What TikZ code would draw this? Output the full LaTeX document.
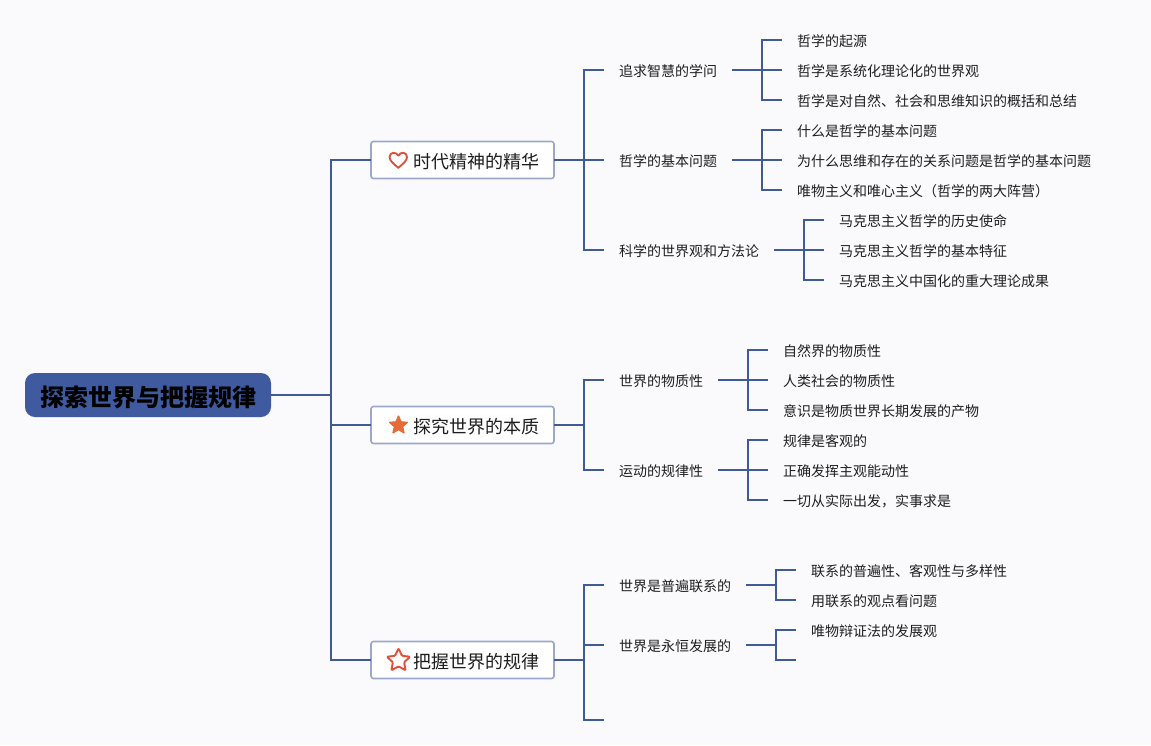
\documentclass[tikz,border=0pt]{standalone}
\usepackage{fontspec}
\setmainfont{Noto Sans CJK SC}
\usetikzlibrary{shapes.geometric}
\definecolor{bgc}{HTML}{FAFAFD}
\definecolor{linec}{HTML}{3F5A94}
\definecolor{rootc}{HTML}{3F5A9E}
\definecolor{boxc}{HTML}{9CA8CA}
\definecolor{heartc}{HTML}{D9533F}
\definecolor{starc}{HTML}{E56C38}
\definecolor{staro}{HTML}{E2503C}
\definecolor{txtc}{HTML}{1E1E1E}
\tikzset{
  conn/.style={draw=linec,line width=2.1pt},
  rootbox/.style={anchor=center,fill=rootc,draw=none,rounded corners=10pt,minimum width=246pt,minimum height=44pt,inner xsep=15pt,inner ysep=0pt,outer sep=0pt,text height=23pt,text depth=0pt,font=\fontsize{24}{28}\selectfont\bfseries,text=black},
  mainbox/.style={anchor=center,fill=white,draw=boxc,line width=1.6pt,rounded corners=2.5pt,minimum width=183pt,minimum height=37pt,inner xsep=15pt,inner ysep=0pt,outer sep=0pt,text height=18pt,text depth=0.3pt,font=\fontsize{18}{22}\selectfont,text=txtc},
  item/.style={anchor=west,inner xsep=15pt,inner ysep=0pt,outer sep=0pt,text height=14pt,text depth=0.4pt,font=\fontsize{14}{16}\selectfont,text=txtc},
}
\begin{document}
\begin{tikzpicture}[x=1pt,y=-1pt]
\useasboundingbox (0,0) rectangle (1151,745);
\fill[bgc] (0,0) rectangle (1151,745);

% connectors' end points
\coordinate (c3) at (604,720);
\coordinate (c22) at (796,660);

% second level
\node[item] (a1) at (604,70) {追求智慧的学问};
\node[item] (a2) at (604,160) {哲学的基本问题};
\node[item] (a3) at (604,250) {科学的世界观和方法论};
\node[item] (b1) at (604,380) {世界的物质性};
\node[item] (b2) at (604,470) {运动的规律性};
\node[item] (c1) at (604,585) {世界是普遍联系的};
\node[item] (c2) at (604,645) {世界是永恒发展的};

% leaves
\node[item] (a11) at (782,40) {哲学的起源};
\node[item] (a12) at (782,70) {哲学是系统化理论化的世界观};
\node[item] (a13) at (782,100) {哲学是对自然、社会和思维知识的概括和总结};
\node[item] (a21) at (782,130) {什么是哲学的基本问题};
\node[item] (a22) at (782,160) {为什么思维和存在的关系问题是哲学的基本问题};
\node[item] (a23) at (782,190) {唯物主义和唯心主义（哲学的两大阵营）};
\node[item] (a31) at (824,220) {马克思主义哲学的历史使命};
\node[item] (a32) at (824,250) {马克思主义哲学的基本特征};
\node[item] (a33) at (824,280) {马克思主义中国化的重大理论成果};
\node[item] (b11) at (768,350) {自然界的物质性};
\node[item] (b12) at (768,380) {人类社会的物质性};
\node[item] (b13) at (768,410) {意识是物质世界长期发展的产物};
\node[item] (b21) at (768,440) {规律是客观的};
\node[item] (b22) at (768,470) {正确发挥主观能动性};
\node[item] (b23) at (768,500) {一切从实际出发，实事求是};
\node[item] (c11) at (796,570) {联系的普遍性、客观性与多样性};
\node[item] (c12) at (796,600) {用联系的观点看问题};
\node[item] (c21) at (796,630) {唯物辩证法的发展观};

% main topic positions, connectors first so boxes sit on top
\path (148,395) coordinate (rootpos) (462.5,160) coordinate (m1pos) (462.5,425) coordinate (m2pos) (462.5,660) coordinate (m3pos);
\node[rootbox] (root) at (rootpos) {探索世界与把握规律};
\node[mainbox] (m1) at (m1pos) {\hspace*{27pt}时代精神的精华};
\node[mainbox] (m2) at (m2pos) {\hspace*{27pt}探究世界的本质};
\node[mainbox] (m3) at (m3pos) {\hspace*{27pt}把握世界的规律};

% connectors
\draw[conn] (root.east) -- ++(60,0) |- (m1.west);
\draw[conn] (root.east) -- ++(60,0) |- (m2.west);
\draw[conn] (root.east) -- ++(60,0) |- (m3.west);
\foreach \p/\c in {m1/a1,m1/a2,m1/a3,m2/b1,m2/b2,m3/c1,m3/c2,m3/c3}{
  \draw[conn] (\p.east) -- ++(30,0) |- (\c);
}
\foreach \p/\c in {a1/a11,a1/a12,a1/a13,a2/a21,a2/a22,a2/a23,a3/a31,a3/a32,a3/a33,b1/b11,b1/b12,b1/b13,b2/b21,b2/b22,b2/b23,c1/c11,c1/c12,c2/c21,c2/c22}{
  \draw[conn] (\p.east) -- ++(30,0) |- (\c);
}

% icons
\draw[heartc,line width=1.9pt,line join=round]
  (398.3,167.8) .. controls (393.5,163.8) and (389.6,160.6) .. (389.6,157)
  .. controls (389.6,152) and (396,151.4) .. (398.3,155.6)
  .. controls (400.6,151.4) and (407,152) .. (407,157)
  .. controls (407,160.6) and (403.1,163.8) .. (398.3,167.8) -- cycle;
\node[star,star points=5,star point ratio=2.2,minimum size=19.5pt,inner sep=0pt,fill=starc,draw=starc,line width=1pt,line join=round,rounded corners=0.5pt] (s2) at (398.5,425.3) {};
\node[star,star points=5,star point ratio=2.1,minimum size=24.5pt,inner sep=0pt,draw=staro,line width=1.9pt,line join=round,rounded corners=1pt,fill=none] (s3) at (398.5,660.5) {};
\end{tikzpicture}
\end{document}
